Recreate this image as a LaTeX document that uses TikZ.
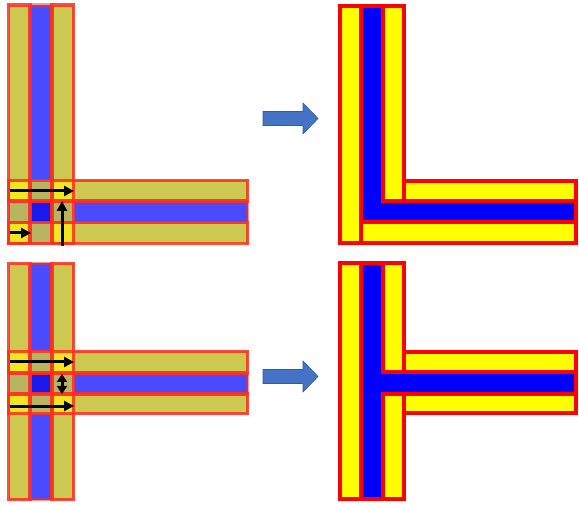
\documentclass[tikz,border=0pt]{standalone}
\usetikzlibrary{arrows.meta}
% overlapped (semi-transparent) strips
\definecolor{ysingle}{RGB}{204,200,80}
\definecolor{ydouble}{RGB}{242,230,30}
\definecolor{bsingle}{RGB}{74,74,255}
\definecolor{bdouble}{RGB}{25,25,235}
\definecolor{ybmix}{RGB}{184,180,96}
\definecolor{edgered}{RGB}{255,45,35}
% merged (opaque) shapes
\definecolor{solidyellow}{RGB}{255,255,0}
\definecolor{solidblue}{RGB}{0,0,255}
\definecolor{solidred}{RGB}{255,0,0}
\definecolor{arrowblue}{RGB}{68,114,196}
\definecolor{arrowedge}{RGB}{50,90,165}
\begin{document}
\begin{tikzpicture}[x=1pt,y=-1pt,
  yedge/.style={draw=edgered,draw opacity=0.85,line width=3.2},
  bedge/.style={draw=edgered,draw opacity=0.5,line width=3.2},
  solid/.style={draw=solidred,line width=4.2,line join=miter},
  flow/.style={draw=black,line width=3,-{Triangle[length=10,width=10]}},
  flowboth/.style={draw=black,line width=3,{Triangle[length=8,width=10]}-{Triangle[length=8,width=10]}},
  bigarrow/.style={fill=arrowblue,draw=arrowedge,line width=0.6}]
\useasboundingbox (0,0) rectangle (579,505);

% ---- left column: three vertical and three horizontal strips laid over each other
\foreach \vt/\vb/\ha/\hb/\hc/\hd in {5/243.5/180.5/201/222.5/243.5, 263.5/499.5/351.5/373/394/413.5}{
  % strip fills
  \fill[ysingle] (8.5,\vt) rectangle (30,\vb);
  \fill[bsingle] (30,\vt) rectangle (52,\vb);
  \fill[ysingle] (52,\vt) rectangle (73.5,\vb);
  \fill[ysingle] (8.5,\ha) rectangle (247.5,\hb);
  \fill[bsingle] (8.5,\hb) rectangle (247.5,\hc);
  \fill[ysingle] (8.5,\hc) rectangle (247.5,\hd);
  % crossing cells
  \fill[ydouble] (8.5,\ha) rectangle (30,\hb);
  \fill[ybmix]   (30,\ha) rectangle (52,\hb);
  \fill[ydouble] (52,\ha) rectangle (73.5,\hb);
  \fill[ybmix]   (8.5,\hb) rectangle (30,\hc);
  \fill[bdouble] (30,\hb) rectangle (52,\hc);
  \fill[ybmix]   (52,\hb) rectangle (73.5,\hc);
  \fill[ydouble] (8.5,\hc) rectangle (30,\hd);
  \fill[ybmix]   (30,\hc) rectangle (52,\hd);
  \fill[ydouble] (52,\hc) rectangle (73.5,\hd);
  % strip outlines
  \draw[bedge] (30,\vt) rectangle (52,\vb);
  \draw[bedge] (8.5,\hb) rectangle (247.5,\hc);
  \draw[yedge] (8.5,\vt) rectangle (30,\vb);
  \draw[yedge] (52,\vt) rectangle (73.5,\vb);
  \draw[yedge] (8.5,\ha) rectangle (247.5,\hb);
  \draw[yedge] (8.5,\hc) rectangle (247.5,\hd);
}

% ---- flow arrows on the L crossing
\coordinate (la1) at (9.5,191);   \coordinate (lb1) at (74,191);
\coordinate (la2) at (9.5,233);   \coordinate (lb2) at (31,233);
\coordinate (la3) at (62,246);    \coordinate (lb3) at (62,201);
\draw[flow] (la1) -- (lb1);
\draw[flow] (la2) -- (lb2);
\draw[flow] (la3) -- (lb3);

% ---- flow arrows on the T crossing
\coordinate (ta1) at (9.5,362);   \coordinate (tb1) at (74,362);
\coordinate (ta2) at (9.5,406);   \coordinate (tb2) at (74,406);
\coordinate (ta3) at (62,374);    \coordinate (tb3) at (62,394);
\draw[flow] (ta1) -- (tb1);
\draw[flow] (ta2) -- (tb2);
\draw[flowboth] (ta3) -- (tb3);

% ---- transition arrows
\draw[bigarrow] (263,111.5) -- (303,111.5) -- (303,103) -- (318,118.5) -- (303,134) -- (303,125.5) -- (263,125.5) -- cycle;
\draw[bigarrow] (263,369.5) -- (303,369.5) -- (303,361) -- (318,376.5) -- (303,392) -- (303,383.5) -- (263,383.5) -- cycle;

% ---- merged L shape
\draw[solid,fill=solidyellow] (340,6) rectangle (361,243);
\draw[solid,fill=solidyellow] (361,222) rectangle (576,243);
\draw[solid,fill=solidblue] (361,6) -- (383,6) -- (383,201) -- (576,201) -- (576,222) -- (361,222) -- cycle;
\draw[solid,fill=solidyellow] (383,6) rectangle (404,201);
\draw[solid,fill=solidyellow] (404,181) rectangle (576,201);

% ---- merged T shape
\draw[solid,fill=solidyellow] (340,263) rectangle (361,499);
\draw[solid,fill=solidblue] (361,263) -- (383,263) -- (383,372) -- (576,372) -- (576,394) -- (383,394) -- (383,499) -- (361,499) -- cycle;
\draw[solid,fill=solidyellow] (383,263) rectangle (404,372);
\draw[solid,fill=solidyellow] (404,352) rectangle (576,372);
\draw[solid,fill=solidyellow] (383,394) rectangle (404,499);
\draw[solid,fill=solidyellow] (404,394) rectangle (576,413);
\end{tikzpicture}
\end{document}
